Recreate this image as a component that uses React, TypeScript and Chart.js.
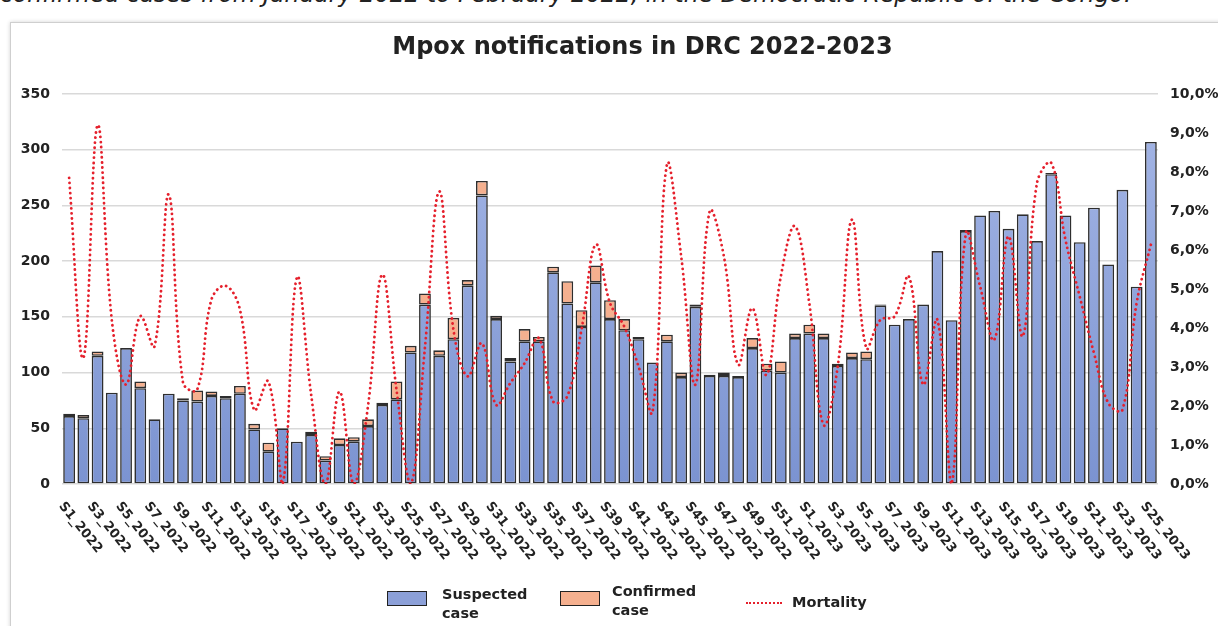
import React, { useEffect, useRef } from "react";
import { Chart, registerables } from "chart.js";

Chart.register(...registerables);

const weeks2022: string[] = Array.from({ length: 52 }, (_, i) => `S${i + 1}_2022`);
const weeks2023: string[] = Array.from({ length: 25 }, (_, i) => `S${i + 1}_2023`);
const categories: string[] = [...weeks2022, ...weeks2023];

const suspectedCases: number[] = [
  61, 59, 115, 82, 122, 86, 58, 81, 75, 74, 79, 77, 81, 49, 29, 50, 38, 44, 21, 35,
  38, 52, 71, 76, 118, 161, 115, 130, 178, 259, 148, 110, 128, 128, 190, 162, 141, 181, 148, 138,
  130, 109, 128, 96, 159, 97, 97, 96, 122, 102, 100, 131,
  135, 131, 106, 113, 112, 160, 143, 148, 161, 209, 147, 227, 241, 245, 229, 242, 218, 278,
  241, 217, 248, 197, 264, 177, 307,
];

const confirmedCases: number[] = [
  2, 3, 4, 0, 0, 6, 0, 0, 2, 10, 4, 2, 7, 5, 8, 0, 0, 3, 4, 6,
  4, 6, 2, 16, 6, 10, 5, 19, 5, 13, 3, 3, 11, 4, 5, 20, 15, 15, 17, 10,
  2, 0, 6, 4, 2, 1, 3, 1, 9, 6, 10, 4,
  8, 4, 2, 5, 7, 1, 0, 0, 0, 0, 0, 1, 0, 0, 0, 0, 0, 1,
  0, 0, 0, 0, 0, 0, 0,
];

const mortalityPct: number[] = [
  7.85, 3.23, 9.2, 4.2, 2.55, 4.3, 3.53, 7.42, 2.6, 2.42, 4.73, 5.08, 4.47, 1.9, 2.63, 0, 5.29, 2.3, 0, 2.37,
  0, 2.0, 5.37, 2.42, 0, 3.5, 7.5, 3.96, 2.76, 3.61, 2.03, 2.59, 3.1, 3.74, 2.12, 2.25, 3.96, 6.14, 4.64, 4.04,
  3.02, 1.86, 8.19, 5.84, 2.55, 6.99, 5.84, 3.06, 4.51, 2.8, 5.32, 6.61,
  4.64, 1.52, 3.02, 6.78, 3.49, 4.21, 4.3, 5.32, 2.55, 4.21, 0, 6.43, 5.07, 3.7, 6.35, 3.79, 7.72, 8.23,
  6.26, 4.81, 3.36, 2.08, 1.9, 4.64, 6.14,
];

const leftTicks: number[] = [0, 50, 100, 150, 200, 250, 300, 350];
const rightTicksPct: number[] = [0, 1, 2, 3, 4, 5, 6, 7, 8, 9, 10];

const FONT = '"DejaVu Sans", "Noto Sans", sans-serif';
const BLUE = "#8ca0d8";
const ORANGE = "#f5b08f";
const RED = "#e5202c";
const EDGE = "#2e2e2e";

const xLabelPlugin = {
  id: "xLabelsRotated",
  afterDraw(chart: any) {
    const scale = chart.scales.x;
    const ctx = chart.ctx;
    const y0 = chart.chartArea.bottom + 20;
    ctx.save();
    ctx.font = `bold 13px ${FONT}`;
    ctx.fillStyle = "#222";
    ctx.textAlign = "left";
    ctx.textBaseline = "middle";
    categories.forEach((c, i) => {
      if (i % 2 !== 0) return;
      const x = scale.getPixelForValue(i);
      ctx.save();
      ctx.translate(x - 8, y0);
      ctx.rotate((51 * Math.PI) / 180);
      ctx.fillText(c, 0, 0);
      ctx.restore();
    });
    ctx.restore();
  },
};

export default function App() {
  const canvasRef = useRef<HTMLCanvasElement | null>(null);

  useEffect(() => {
    if (!canvasRef.current) return;
    const blueFill = (c: any) => {
      const area = c.chart.chartArea;
      if (!area) return BLUE;
      const g = c.chart.ctx.createLinearGradient(0, area.top, 0, area.bottom);
      g.addColorStop(0, "#a6b7e6");
      g.addColorStop(1, "#7b93d1");
      return g;
    };
    const chart = new Chart(canvasRef.current, {
      type: "bar",
      data: {
        labels: categories,
        datasets: [
          {
            type: "line",
            label: "Mortality",
            data: mortalityPct,
            yAxisID: "y1",
            borderColor: RED,
            borderWidth: 2.8,
            borderDash: [0.1, 5],
            borderCapStyle: "round",
            pointRadius: 0,
            tension: 0.4,
            fill: false,
            order: 0,
          } as any,
          {
            type: "bar",
            label: "Suspected case",
            data: suspectedCases,
            yAxisID: "y",
            stack: "cases",
            backgroundColor: blueFill,
            borderColor: EDGE,
            borderWidth: 1.6,
            borderSkipped: false,
            barPercentage: 0.83,
            categoryPercentage: 1,
            order: 1,
          } as any,
          {
            type: "bar",
            label: "Confirmed case",
            data: confirmedCases.map((v) => (v === 0 ? null : v)),
            yAxisID: "y",
            stack: "cases",
            backgroundColor: ORANGE,
            borderColor: EDGE,
            borderWidth: 1.6,
            borderSkipped: false,
            barPercentage: 0.83,
            categoryPercentage: 1,
            order: 1,
          } as any,
        ],
      },
      options: {
        animation: false,
        responsive: true,
        maintainAspectRatio: false,
        layout: { padding: { left: 10, right: 0, top: 94, bottom: 0 } },
        plugins: { legend: { display: false }, title: { display: false }, tooltip: { enabled: false } },
        scales: {
          x: {
            stacked: true,
            grid: { display: false },
            border: { display: false },
            ticks: { display: false },
            afterFit: (s: any) => {
              s.height = 142;
            },
          },
          y: {
            stacked: true,
            position: "left",
            min: leftTicks[0],
            max: leftTicks[leftTicks.length - 1],
            afterBuildTicks: (s: any) => {
              s.ticks = leftTicks.map((v) => ({ value: v }));
            },
            grid: { color: "#d9d9d9", lineWidth: 1.5, drawTicks: false },
            border: { display: false },
            ticks: { padding: 12, color: "#222", font: { family: FONT, size: 14, weight: "bold" } },
            afterFit: (s: any) => {
              s.width = 52;
            },
          },
          y1: {
            position: "right",
            min: rightTicksPct[0],
            max: rightTicksPct[rightTicksPct.length - 1],
            afterBuildTicks: (s: any) => {
              s.ticks = rightTicksPct.map((v) => ({ value: v }));
            },
            grid: { display: false, drawTicks: false },
            border: { display: false },
            ticks: {
              padding: 12,
              color: "#222",
              font: { family: FONT, size: 14, weight: "bold" },
              callback: (v: any) => `${Number(v).toFixed(1).replace(".", ",")}%`,
            },
            afterFit: (s: any) => {
              s.width = 60;
            },
          },
        },
      } as any,
      plugins: [xLabelPlugin],
    });
    return () => chart.destroy();
  }, []);

  const legendText: React.CSSProperties = {
    position: "absolute",
    font: `bold 14.5px/19px ${FONT}`,
    color: "#222",
    whiteSpace: "nowrap",
  };

  return (
    <div
      style={{
        position: "fixed",
        left: 0,
        top: 0,
        width: 1218,
        height: 626,
        overflow: "hidden",
        background: "#fff",
      }}
    >
      <div
        style={{
          position: "absolute",
          left: 0,
          top: -20,
          font: `italic 23.5px/28px ${FONT}`,
          color: "#222",
          whiteSpace: "nowrap",
        }}
      >
        confirmed cases from January 2022 to February 2022, in the Democratic Republic of the Congo.
      </div>
      <div
        style={{
          position: "absolute",
          left: 10,
          top: 22,
          width: 1240,
          height: 640,
          border: "1px solid #cfcfcf",
          boxShadow: "0 0 4px rgba(0,0,0,0.18)",
        }}
      />
      <div style={{ position: "absolute", left: 0, top: 0, width: 1218, height: 626 }}>
        <canvas ref={canvasRef} />
      </div>
      <div
        style={{
          position: "absolute",
          left: 0,
          width: 1285,
          top: 32,
          textAlign: "center",
          font: `bold 24px ${FONT}`,
          color: "#222",
          whiteSpace: "nowrap",
        }}
      >
        Mpox notifications in DRC 2022-2023
      </div>
      <div
        style={{
          position: "absolute",
          left: 387,
          top: 591,
          width: 38,
          height: 13,
          background: BLUE,
          border: "1.5px solid #222",
        }}
      />
      <div style={{ ...legendText, left: 442, top: 585 }}>
        Suspected
        <br />
        case
      </div>
      <div
        style={{
          position: "absolute",
          left: 560,
          top: 591,
          width: 38,
          height: 13,
          background: ORANGE,
          border: "1.5px solid #222",
        }}
      />
      <div style={{ ...legendText, left: 612, top: 582 }}>
        Confirmed
        <br />
        case
      </div>
      <div
        style={{
          position: "absolute",
          left: 746,
          top: 602,
          width: 36,
          height: 0,
          borderTop: `2.5px dotted ${RED}`,
        }}
      />
      <div style={{ ...legendText, left: 792, top: 593 }}>Mortality</div>
    </div>
  );
}
